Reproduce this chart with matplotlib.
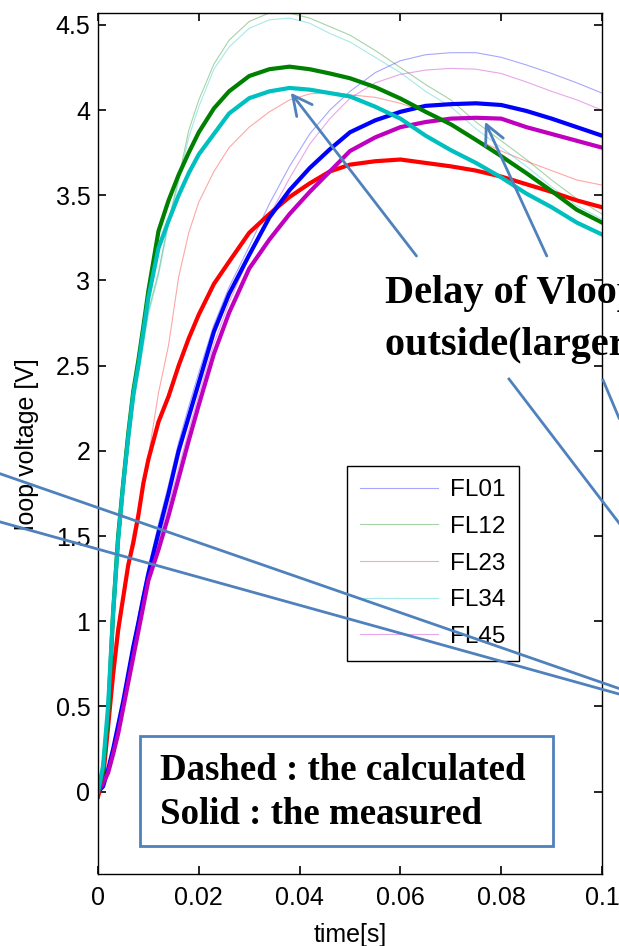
import matplotlib.pyplot as plt
from matplotlib.lines import Line2D
from matplotlib.patches import Rectangle, FancyArrowPatch
from matplotlib.ticker import FuncFormatter

# time grid [s]
t = [0, 0.001, 0.002, 0.003, 0.004, 0.005, 0.006, 0.007, 0.008, 0.009, 0.010,
     0.012, 0.014, 0.016, 0.018, 0.020, 0.023, 0.026, 0.030, 0.034, 0.038,
     0.042, 0.046, 0.050, 0.055, 0.060, 0.065, 0.070, 0.075, 0.080, 0.085,
     0.090, 0.095, 0.100]

# calculated loop voltage [V] (thin lines)
calc_fl01 = [0, 0.03, 0.13, 0.26, 0.41, 0.56, 0.72, 0.88, 1.03, 1.18, 1.32,
             1.57, 1.80, 2.05, 2.26, 2.46, 2.74, 2.96, 3.20, 3.45, 3.67,
             3.86, 4.00, 4.11, 4.22, 4.29, 4.325, 4.337, 4.337, 4.31, 4.265,
             4.215, 4.16, 4.10]
calc_fl12 = [0, 0.10, 0.40, 0.95, 1.40, 1.75, 2.02, 2.28, 2.48, 2.65, 2.82,
             3.05, 3.35, 3.60, 3.88, 4.06, 4.27, 4.41, 4.52, 4.57, 4.57,
             4.54, 4.49, 4.44, 4.35, 4.25, 4.15, 4.06, 3.93, 3.82, 3.71,
             3.59, 3.48, 3.39]
calc_fl23 = [0, 0.15, 0.38, 0.62, 0.88, 1.12, 1.35, 1.52, 1.66, 1.82, 1.97,
             2.34, 2.62, 3.02, 3.28, 3.46, 3.64, 3.78, 3.90, 3.99, 4.06,
             4.095, 4.105, 4.09, 4.075, 4.04, 3.99, 3.91, 3.83, 3.76, 3.70,
             3.645, 3.59, 3.56]
calc_fl34 = [0, 0.10, 0.40, 0.95, 1.40, 1.73, 2.00, 2.25, 2.45, 2.62, 2.80,
             3.03, 3.33, 3.58, 3.84, 4.02, 4.24, 4.37, 4.48, 4.53, 4.54,
             4.51, 4.45, 4.40, 4.31, 4.22, 4.11, 4.02, 3.89, 3.78, 3.67,
             3.55, 3.44, 3.36]
calc_fl45 = [0, 0.04, 0.11, 0.23, 0.36, 0.51, 0.66, 0.81, 0.97, 1.12, 1.27,
             1.47, 1.68, 1.90, 2.12, 2.33, 2.63, 2.87, 3.14, 3.38, 3.60,
             3.80, 3.95, 4.07, 4.16, 4.21, 4.235, 4.245, 4.24, 4.215, 4.165,
             4.11, 4.06, 4.00]

# measured loop voltage [V] (thick lines)
meas_fl01 = [0, 0.03, 0.13, 0.25, 0.39, 0.53, 0.69, 0.85, 0.99, 1.14, 1.28,
             1.52, 1.75, 2.00, 2.20, 2.40, 2.70, 2.92, 3.15, 3.37, 3.53,
             3.66, 3.77, 3.87, 3.94, 3.99, 4.025, 4.035, 4.04, 4.03, 3.995,
             3.95, 3.90, 3.85]
meas_fl12 = [0, 0.12, 0.45, 1.05, 1.50, 1.81, 2.10, 2.35, 2.53, 2.73, 2.94,
             3.29, 3.47, 3.62, 3.75, 3.87, 4.01, 4.11, 4.20, 4.24, 4.255,
             4.24, 4.215, 4.187, 4.135, 4.068, 3.99, 3.917, 3.825, 3.73, 3.63,
             3.525, 3.415, 3.34]
meas_fl23 = [-0.03, 0.08, 0.38, 0.69, 0.95, 1.14, 1.33, 1.46, 1.62, 1.81, 1.95,
             2.17, 2.32, 2.50, 2.66, 2.80, 2.98, 3.11, 3.28, 3.39, 3.49,
             3.57, 3.64, 3.68, 3.70, 3.71, 3.69, 3.67, 3.645, 3.61, 3.565,
             3.52, 3.47, 3.43]
meas_fl34 = [0, 0.15, 0.50, 1.05, 1.48, 1.80, 2.08, 2.33, 2.50, 2.70, 2.90,
             3.19, 3.35, 3.50, 3.63, 3.74, 3.86, 3.98, 4.07, 4.11, 4.13,
             4.12, 4.10, 4.08, 4.02, 3.95, 3.85, 3.765, 3.69, 3.605, 3.51,
             3.43, 3.34, 3.27]
meas_fl45 = [0, 0.05, 0.11, 0.22, 0.34, 0.49, 0.64, 0.79, 0.94, 1.09, 1.24,
             1.42, 1.62, 1.84, 2.06, 2.27, 2.57, 2.81, 3.07, 3.24, 3.39,
             3.52, 3.64, 3.76, 3.84, 3.90, 3.93, 3.95, 3.955, 3.95, 3.90,
             3.86, 3.82, 3.78]

labels = ['FL01', 'FL12', 'FL23', 'FL34', 'FL45']
colors = ['#0000ff', '#008000', '#ff0000', '#00bfbf', '#bf00bf']
calc = [calc_fl01, calc_fl12, calc_fl23, calc_fl34, calc_fl45]
meas = [meas_fl01, meas_fl12, meas_fl23, meas_fl34, meas_fl45]

W, H = 619, 946
ann_blue = '#4f81bd'


def fxy(x, y):
    # figure pixel position -> figure fraction
    return (x / W, 1 - y / H)


plt.rcParams['font.family'] = ['Liberation Sans', 'DejaVu Sans']

fig = plt.figure(figsize=(W / 100, H / 100), dpi=100)
ax = fig.add_axes([98 / W, 1 - 874.3 / H, 504 / W, 860.8 / H])

for v, c, lab in zip(calc, colors, labels):
    ax.plot(t, v, color=c, lw=0.8, alpha=0.35, label=lab)

# drawing order of the measured curves
for i in [2, 0, 4, 1, 3]:
    ax.plot(t, meas[i], color=colors[i], lw=3)

ax.set_xlim(0, 0.1)
ax.set_ylim(-0.485, 4.567)
ax.set_xticks([0, 0.02, 0.04, 0.06, 0.08, 0.1])
ax.set_yticks([0, 0.5, 1, 1.5, 2, 2.5, 3, 3.5, 4, 4.5])
fmt = FuncFormatter(lambda v, p: '%g' % v)
ax.xaxis.set_major_formatter(fmt)
ax.yaxis.set_major_formatter(fmt)
ax.tick_params(direction='in', top=True, right=True, length=6, width=1.2,
               labelsize=18)
ax.tick_params(axis='x', pad=8.5)
ax.tick_params(axis='y', pad=5.5)
for s in ax.spines.values():
    s.set_linewidth(1.0)

ax.set_xlabel('time[s]', fontsize=18)
ax.xaxis.set_label_coords(0.5, -0.056)
ax.set_ylabel('loop voltage [V]', fontsize=18)
ax.yaxis.set_label_coords(-0.117, 0.5)

leg = ax.legend(loc='upper left', bbox_to_anchor=fxy(346.7, 466),
                bbox_transform=fig.transFigure, fancybox=False,
                edgecolor='black', framealpha=1, fontsize=17.5,
                handlelength=3.2, handletextpad=0.5, labelspacing=0.6,
                borderpad=0.55, borderaxespad=0)
leg.get_frame().set_linewidth(1.0)

# note box
fig.add_artist(Rectangle(fxy(140, 846), 413 / W, 110 / H,
                         transform=fig.transFigure, facecolor='white',
                         edgecolor=ann_blue, lw=2))
serif = dict(family='Liberation Serif', weight='bold', ha='left', va='center')
fig.text(*fxy(160, 770), 'Dashed : the calculated', fontsize=26.6, **serif)
fig.text(*fxy(160, 814), 'Solid : the measured', fontsize=26.6, **serif)

# callout text, running past the right edge as in the source figure
fig.text(*fxy(385, 293), 'Delay of Vloop at', fontsize=29, **serif)
fig.text(*fxy(385, 345), 'outside(larger R)', fontsize=29, **serif)

# arrows to the peaks
for tail, tip in [((416.5, 256), (290.7, 92.7)), ((546.8, 256), (485, 121.7))]:
    fig.add_artist(FancyArrowPatch(fxy(*tail), fxy(*tip),
                                   transform=fig.transFigure,
                                   arrowstyle='->,head_length=0.7,head_width=0.35',
                                   mutation_scale=20, color=ann_blue, lw=2,
                                   shrinkA=0, shrinkB=0))

# pointer lines running off the figure
for (x1, y1), (x2, y2) in [((0, 473.7), (619, 688.5)),
                           ((0, 521.9), (619, 694)),
                           ((509, 379), (619, 523)),
                           ((603, 380), (619, 418))]:
    p1, p2 = fxy(x1, y1), fxy(x2, y2)
    fig.add_artist(Line2D([p1[0], p2[0]], [p1[1], p2[1]],
                          transform=fig.transFigure, color=ann_blue, lw=2))

fig.savefig('out.png', dpi=100)
